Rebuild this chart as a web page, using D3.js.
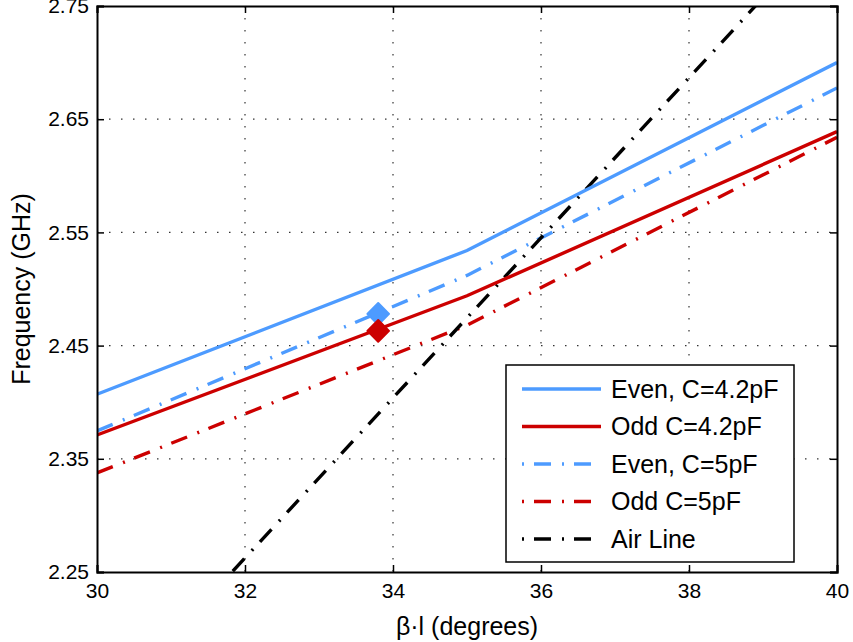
<!DOCTYPE html>
<html>
<head>
<meta charset="utf-8">
<script src="https://cdn.jsdelivr.net/npm/d3@7"></script>
<style>
  html, body { margin: 0; padding: 0; background: #fff; }
  svg { display: block; font-family: "Liberation Sans", Arial, Helvetica, sans-serif; }
</style>
</head>
<body>
<svg id="chart" width="853" height="642"></svg>
<script>
// ---- data ----
const xTicks = [30, 32, 34, 36, 38, 40];
const yTicks = [2.25, 2.35, 2.45, 2.55, 2.65, 2.75];
const xLabel = "β·l (degrees)";
const yLabel = "Frequency (GHz)";

const evenC42X = [30, 35, 40];
const evenC42Y = [2.407, 2.534, 2.700];
const oddC42X = [30, 35, 40];
const oddC42Y = [2.371, 2.494, 2.639];
const evenC5X = [30, 35, 40];
const evenC5Y = [2.3746, 2.512, 2.6776];
const oddC5X = [30, 35, 40];
const oddC5Y = [2.3375, 2.468, 2.634];
const airX = [30, 40];
const airY = [2.121, 2.828];

const markerX = [33.8, 33.8];
const markerY = [2.478, 2.463];
const markerSeries = ["Even, C=4.2pF", "Odd C=4.2pF"];

const seriesNames = ["Even, C=4.2pF", "Odd C=4.2pF", "Even, C=5pF", "Odd C=5pF", "Air Line"];
const seriesColors = ["#4d9bff", "#cc0000", "#4d9bff", "#cc0000", "#000000"];
const seriesDash = ["none", "none", "17,11,2,10", "17,11,2,10", "17,11,2,10"];

// ---- layout ----
const W = 853, H = 642;
const m = { left: 97, right: 853 - 837, top: 6, bottom: 642 - 572 };
const svg = d3.select("#chart");

const x = d3.scaleLinear().domain([30, 40]).range([m.left, W - m.right]);
const y = d3.scaleLinear().domain([2.25, 2.75]).range([H - m.bottom, m.top]);

// grid
const grid = svg.append("g");
grid.selectAll(".gx").data(xTicks.slice(1, -1)).join("line")
  .attr("x1", d => x(d)).attr("x2", d => x(d))
  .attr("y1", y(2.75)).attr("y2", y(2.25))
  .attr("stroke", "#333").attr("stroke-width", 1.2).attr("stroke-dasharray", "1.5,10.5");
grid.selectAll(".gy").data(yTicks.slice(1, -1)).join("line")
  .attr("y1", d => y(d)).attr("y2", d => y(d))
  .attr("x1", x(30)).attr("x2", x(40))
  .attr("stroke", "#333").attr("stroke-width", 1.2).attr("stroke-dasharray", "1.5,10.5");

// clip
svg.append("clipPath").attr("id", "clip").append("rect")
  .attr("x", x(30)).attr("y", y(2.75)).attr("width", x(40) - x(30)).attr("height", y(2.25) - y(2.75));

const line = d3.line().x(d => x(d[0])).y(d => y(d[1]));
const seriesData = [
  d3.zip(evenC42X, evenC42Y),
  d3.zip(oddC42X, oddC42Y),
  d3.zip(evenC5X, evenC5Y),
  d3.zip(oddC5X, oddC5Y),
  d3.zip(airX, airY)
];

const plot = svg.append("g").attr("clip-path", "url(#clip)");
[2, 3, 4, 0, 1].forEach(i => {
  plot.append("path")
    .attr("d", line(seriesData[i]))
    .attr("fill", "none")
    .attr("stroke", seriesColors[i])
    .attr("stroke-width", 3.4)
    .attr("stroke-dasharray", seriesDash[i] === "none" ? null : seriesDash[i]);
});

// markers
const diamond = d3.symbol().type(d3.symbolDiamond2).size(300);
svg.selectAll(".mk").data(d3.zip(markerX, markerY, markerSeries)).join("path")
  .attr("transform", d => `translate(${x(d[0])},${y(d[1])})`)
  .attr("d", diamond)
  .attr("fill", d => seriesColors[seriesNames.indexOf(d[2])])
  .attr("stroke", d => seriesColors[seriesNames.indexOf(d[2])])
  .attr("stroke-width", 2).attr("stroke-linejoin", "round");

// axes (ticks inward on all sides)
const tl = 7;
const axB = svg.append("g").attr("transform", `translate(0,${y(2.25)})`)
  .call(d3.axisBottom(x).tickValues(xTicks).tickSize(-tl).tickPadding(11).tickFormat(d3.format("d")));
const axT = svg.append("g").attr("transform", `translate(0,${y(2.75)})`)
  .call(d3.axisTop(x).tickValues(xTicks).tickSize(-tl).tickFormat(""));
const axL = svg.append("g").attr("transform", `translate(${x(30)},0)`)
  .call(d3.axisLeft(y).tickValues(yTicks).tickSize(-tl).tickPadding(8).tickFormat(d3.format(".2f")));
const axR = svg.append("g").attr("transform", `translate(${x(40)},0)`)
  .call(d3.axisRight(y).tickValues(yTicks).tickSize(-tl).tickFormat(""));
[axB, axT, axL, axR].forEach(a => {
  a.select(".domain").attr("stroke", "#000").attr("stroke-width", 2);
  a.selectAll(".tick line").attr("stroke", "#000").attr("stroke-width", 1.5);
  a.selectAll("text").attr("fill", "#000").attr("font-size", 21)
    .attr("font-family", "'Liberation Sans', Arial, sans-serif");
});

// axis labels
svg.append("text").attr("x", (x(30) + x(40)) / 2).attr("y", 635)
  .attr("text-anchor", "middle").attr("font-size", 25).text(xLabel);
svg.append("text").attr("transform", `translate(30,${(y(2.25) + y(2.75)) / 2}) rotate(-90)`)
  .attr("text-anchor", "middle").attr("font-size", 25).text(yLabel);

// legend
const lg = svg.append("g");
lg.append("rect").attr("x", 506).attr("y", 365).attr("width", 288).attr("height", 197)
  .attr("fill", "#fff").attr("stroke", "#000").attr("stroke-width", 1.5);
const rowY = d3.scalePoint().domain(seriesNames).range([389, 539]);
seriesNames.forEach((n, i) => {
  lg.append("line").attr("x1", 522).attr("x2", 601).attr("y1", rowY(n)).attr("y2", rowY(n))
    .attr("stroke", seriesColors[i]).attr("stroke-width", 3.4)
    .attr("stroke-dasharray", seriesDash[i] === "none" ? null : "2,10,17,11,2,10,17,11,2");
  lg.append("text").attr("x", 611).attr("y", rowY(n)).attr("dy", "0.35em")
    .attr("font-size", 25).text(n);
});
</script>
</body>
</html>
